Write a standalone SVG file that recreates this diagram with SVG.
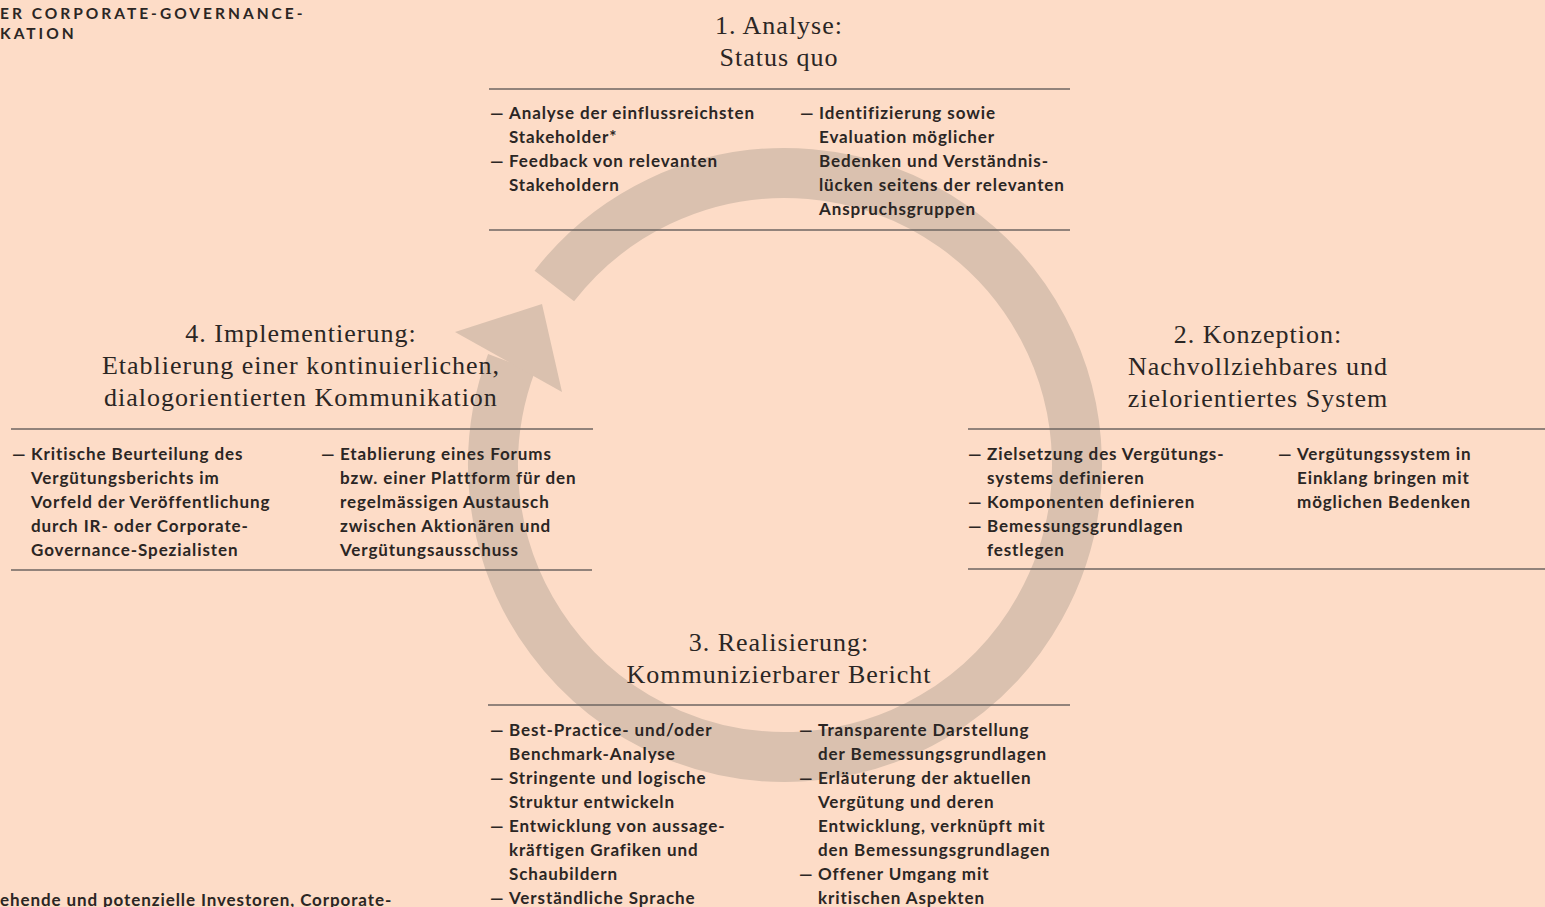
<svg xmlns="http://www.w3.org/2000/svg" width="1545" height="907" viewBox="0 0 1545 907">
<style>
.bg{fill:#fddcc7}
.ring{fill:none;stroke:#dac1af;stroke-width:50}
.head{fill:#dac1af}
.t{font-family:"Liberation Serif","DejaVu Serif",serif;font-size:26px;letter-spacing:1px;fill:#2b2624;text-anchor:middle}
.b{font-family:Lato,"Open Sans",sans-serif;font-weight:700;font-size:17px;letter-spacing:0.9px;fill:#2b2624}
.h{font-family:Lato,"Open Sans",sans-serif;font-weight:700;font-size:15.5px;letter-spacing:3px;fill:#2b2624}
.rule{stroke:#6e6662;stroke-width:1.6}
</style>
<rect class="bg" x="0" y="0" width="1545" height="907"/>
<g id="connectors">
<path class="ring" d="M 554.3 286 A 292 292 0 1 1 511.5 362.7"/>
<polygon class="head" points="542,304 455,332 562,392"/>
</g>
<g id="header">
<text class="h" x="0" y="19">ER CORPORATE-GOVERNANCE-</text>
<text class="h" x="0" y="39">KATION</text>
</g>
<g id="footnote">
<text class="b" x="0" y="906">ehende und potenzielle Investoren, Corporate-</text>
</g>
<g id="step1">
<text class="t" x="779" y="34">1. Analyse:</text>
<text class="t" x="779" y="66">Status quo</text>
<line class="rule" x1="489" y1="89" x2="1070" y2="89"/>
<line class="rule" x1="489" y1="230" x2="1070" y2="230"/>
<text class="b"><tspan x="490" y="119">—</tspan><tspan x="509">Analyse der einflussreichsten</tspan><tspan x="509" y="143">Stakeholder*</tspan><tspan x="490" y="167">—</tspan><tspan x="509">Feedback von relevanten</tspan><tspan x="509" y="191">Stakeholdern</tspan></text>
<text class="b"><tspan x="800" y="119">—</tspan><tspan x="819">Identifizierung sowie</tspan><tspan x="819" y="143">Evaluation möglicher</tspan><tspan x="819" y="167">Bedenken und Verständnis-</tspan><tspan x="819" y="191">lücken seitens der relevanten</tspan><tspan x="819" y="215">Anspruchsgruppen</tspan></text>
</g>
<g id="step2">
<text class="t" x="1258" y="343">2. Konzeption:</text>
<text class="t" x="1258" y="375">Nachvollziehbares und</text>
<text class="t" x="1258" y="407">zielorientiertes System</text>
<line class="rule" x1="968" y1="429" x2="1545" y2="429"/>
<line class="rule" x1="968" y1="569" x2="1545" y2="569"/>
<text class="b"><tspan x="968" y="460">—</tspan><tspan x="987">Zielsetzung des Vergütungs-</tspan><tspan x="987" y="484">systems definieren</tspan><tspan x="968" y="508">—</tspan><tspan x="987">Komponenten definieren</tspan><tspan x="968" y="532">—</tspan><tspan x="987">Bemessungsgrundlagen</tspan><tspan x="987" y="556">festlegen</tspan></text>
<text class="b"><tspan x="1278" y="460">—</tspan><tspan x="1297">Vergütungssystem in</tspan><tspan x="1297" y="484">Einklang bringen mit</tspan><tspan x="1297" y="508">möglichen Bedenken</tspan></text>
</g>
<g id="step3">
<text class="t" x="779" y="651">3. Realisierung:</text>
<text class="t" x="779" y="683">Kommunizierbarer Bericht</text>
<line class="rule" x1="488" y1="705" x2="1070" y2="705"/>
<text class="b"><tspan x="490" y="736">—</tspan><tspan x="509">Best-Practice- und/oder</tspan><tspan x="509" y="760">Benchmark-Analyse</tspan><tspan x="490" y="784">—</tspan><tspan x="509">Stringente und logische</tspan><tspan x="509" y="808">Struktur entwickeln</tspan><tspan x="490" y="832">—</tspan><tspan x="509">Entwicklung von aussage-</tspan><tspan x="509" y="856">kräftigen Grafiken und</tspan><tspan x="509" y="880">Schaubildern</tspan><tspan x="490" y="904">—</tspan><tspan x="509">Verständliche Sprache</tspan></text>
<text class="b"><tspan x="799" y="736">—</tspan><tspan x="818">Transparente Darstellung</tspan><tspan x="818" y="760">der Bemessungsgrundlagen</tspan><tspan x="799" y="784">—</tspan><tspan x="818">Erläuterung der aktuellen</tspan><tspan x="818" y="808">Vergütung und deren</tspan><tspan x="818" y="832">Entwicklung, verknüpft mit</tspan><tspan x="818" y="856">den Bemessungsgrundlagen</tspan><tspan x="799" y="880">—</tspan><tspan x="818">Offener Umgang mit</tspan><tspan x="818" y="904">kritischen Aspekten</tspan></text>
</g>
<g id="step4">
<text class="t" x="301" y="342">4. Implementierung:</text>
<text class="t" x="301" y="374">Etablierung einer kontinuierlichen,</text>
<text class="t" x="301" y="406">dialogorientierten Kommunikation</text>
<line class="rule" x1="11" y1="429" x2="593" y2="429"/>
<line class="rule" x1="11" y1="570" x2="592" y2="570"/>
<text class="b"><tspan x="12" y="460">—</tspan><tspan x="31">Kritische Beurteilung des</tspan><tspan x="31" y="484">Vergütungsberichts im</tspan><tspan x="31" y="508">Vorfeld der Veröffentlichung</tspan><tspan x="31" y="532">durch IR- oder Corporate-</tspan><tspan x="31" y="556">Governance-Spezialisten</tspan></text>
<text class="b"><tspan x="321" y="460">—</tspan><tspan x="340">Etablierung eines Forums</tspan><tspan x="340" y="484">bzw. einer Plattform für den</tspan><tspan x="340" y="508">regelmässigen Austausch</tspan><tspan x="340" y="532">zwischen Aktionären und</tspan><tspan x="340" y="556">Vergütungsausschuss</tspan></text>
</g>
</svg>
